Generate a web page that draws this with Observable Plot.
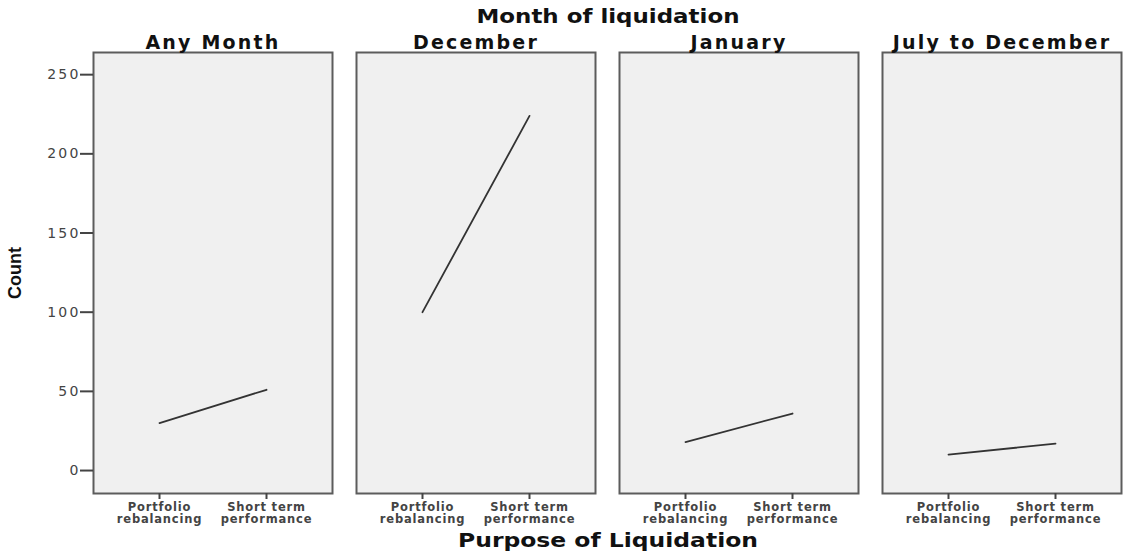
<!DOCTYPE html>
<html>
<head>
<meta charset="utf-8">
<script src="https://cdn.jsdelivr.net/npm/d3@7"></script>
<script src="https://cdn.jsdelivr.net/npm/@observablehq/plot@0.6"></script>
<style>
  body { margin: 0; background: #fff; }
  #chart svg { display: block; }
  g[aria-label="y-axis tick label"] text { letter-spacing: 2.2px; }
  g[aria-label="x-axis tick label"] text { letter-spacing: 0.8px; }
  g[aria-label="fx-axis tick label"] text { letter-spacing: 2.2px; }
</style>
</head>
<body>
<div id="chart"></div>
<script>
const months = ["Any Month", "December", "January", "July to December"];
const purposes = ["Portfolio rebalancing", "Short term performance"];
const purposeLabels = ["Portfolio\nrebalancing", "Short term\nperformance"];
const portfolioCounts = [30, 100, 18, 10];
const shortTermCounts = [51, 224, 36, 17];
const yTicks = [0, 50, 100, 150, 200, 250];

const data = months.flatMap((m, i) => [
  {month: m, purpose: purposes[0], count: portfolioCounts[i]},
  {month: m, purpose: purposes[1], count: shortTermCounts[i]}
]);

const chart = Plot.plot({
  width: 1123,
  height: 553,
  marginLeft: 92,
  marginRight: 1,
  marginTop: 52,
  marginBottom: 60,
  style: {fontFamily: "DejaVu Sans", background: "#fff"},
  fx: {domain: months, paddingInner: 24 / 264, paddingOuter: 0, label: null},
  x: {domain: purposes, padding: 0.611, label: null},
  y: {domain: [-14.5, 264], label: null},
  marks: [
    Plot.frame({fill: "#f0f0f0"}),
    Plot.lineY(data, {fx: "month", x: "purpose", y: "count", stroke: "#333", strokeWidth: 1.8}),
    Plot.frame({stroke: "#5c5c5c", strokeWidth: 2}),
    Plot.axisY({ticks: yTicks, tickSize: 13, tickPadding: 0, fontSize: 14, color: "#444", strokeWidth: 2, label: null}),
    Plot.axisX({tickFormat: d => purposeLabels[purposes.indexOf(d)], tickSize: 6, tickPadding: 3, fontSize: 11.5, fontWeight: "bold", lineHeight: 1.05, color: "#444", strokeWidth: 2, label: null}),
    Plot.axisFx({anchor: "top", tickSize: 0, tickPadding: 4, fontSize: 19, fontWeight: "bold", color: "#111", label: null})
  ]
});

document.getElementById("chart").appendChild(chart);

const svg = d3.select(chart);
svg.append("text")
  .attr("x", 608).attr("y", 23)
  .attr("text-anchor", "middle")
  .attr("font-family", "DejaVu Sans").attr("font-weight", "bold").attr("font-size", 19)
  .attr("fill", "#111")
  .attr("textLength", 263).attr("lengthAdjust", "spacingAndGlyphs")
  .text("Month of liquidation");
svg.append("text")
  .attr("x", 608).attr("y", 547)
  .attr("text-anchor", "middle")
  .attr("font-family", "DejaVu Sans").attr("font-weight", "bold").attr("font-size", 19)
  .attr("fill", "#111")
  .attr("textLength", 300).attr("lengthAdjust", "spacingAndGlyphs")
  .text("Purpose of Liquidation");
svg.append("text")
  .attr("transform", "translate(21,273) rotate(-90)")
  .attr("text-anchor", "middle")
  .attr("font-family", "Liberation Sans").attr("font-weight", "bold").attr("font-size", 18)
  .attr("fill", "#111")
  .text("Count");
</script>
</body>
</html>
